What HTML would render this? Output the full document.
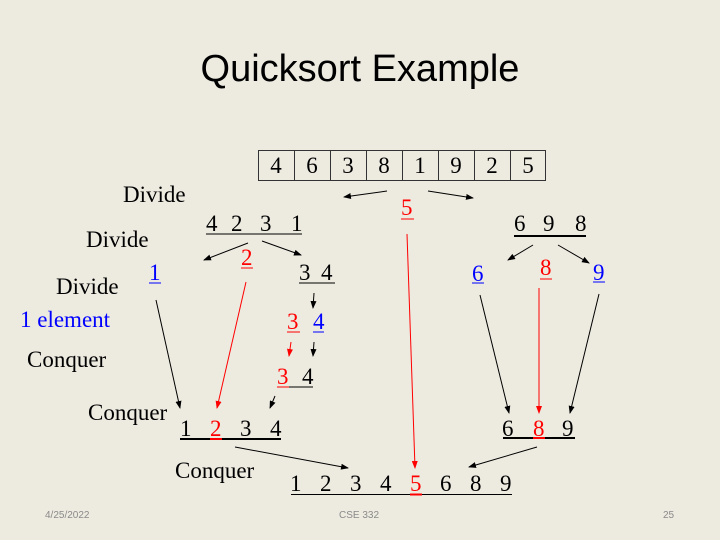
<!DOCTYPE html>
<html><head><meta charset="utf-8"><style>
html,body{margin:0;padding:0;background:#EDEAE0;}
svg{display:block}
.s{font-family:"Liberation Serif",serif;font-size:23px;}
.f{font-family:"Liberation Sans",sans-serif;font-size:10px;fill:#8a8a8a}
</style></head><body>
<svg width="720" height="540" viewBox="0 0 720 540" xmlns="http://www.w3.org/2000/svg">
<defs>
<marker id="a" markerWidth="8" markerHeight="6" refX="7" refY="3" orient="auto" markerUnits="userSpaceOnUse"><path d="M0,0 L8,3 L0,6z" fill="#000"/></marker>
<marker id="r" markerWidth="8" markerHeight="6" refX="7" refY="3" orient="auto" markerUnits="userSpaceOnUse"><path d="M0,0 L8,3 L0,6z" fill="#f00"/></marker>
</defs>
<rect width="720" height="540" fill="#EDEAE0"/>
<text x="360" y="81" text-anchor="middle" font-family="Liberation Sans,sans-serif" font-size="38">Quicksort Example</text>

<g fill="none" stroke="#333" stroke-width="1">
<rect x="258.5" y="150.5" width="287" height="30"/>
<path d="M294.5 150v30M330.5 150v30M366.5 150v30M402.5 150v30M438.5 150v30M474.5 150v30M510.5 150v30"/>
</g>
<g class="s" text-anchor="middle">
<text x="276" y="173">4</text><text x="312" y="173">6</text><text x="348" y="173">3</text><text x="384" y="173">8</text><text x="420" y="173">1</text><text x="456" y="173">9</text><text x="492" y="173">2</text><text x="528" y="173">5</text>
</g>

<g class="s">
<text x="123" y="202">Divide</text>
<text x="86" y="247">Divide</text>
<text x="56" y="294">Divide</text>
<text x="20" y="327" fill="#00f">1 element</text>
<text x="27" y="367">Conquer</text>
<text x="88" y="420">Conquer</text>
<text x="175" y="478">Conquer</text>

<text x="206" y="231">4</text><text x="231" y="231">2</text><text x="260" y="231">3</text><text x="291" y="231">1</text>
<text x="401" y="215" fill="#f00">5</text>
<text x="241" y="265" fill="#f00">2</text>
<text x="149" y="280" fill="#00f">1</text>
<text x="299" y="280">3</text><text x="321" y="280">4</text>
<text x="287" y="329" fill="#f00">3</text><text x="313" y="329" fill="#00f">4</text>
<text x="277" y="384" fill="#f00">3</text><text x="302" y="384">4</text>
<text x="180" y="436">1</text><text x="210" y="436" fill="#f00">2</text><text x="240" y="436">3</text><text x="270" y="436">4</text>

<text x="514" y="231">6</text><text x="543" y="231">9</text><text x="575" y="231">8</text>
<text x="472" y="281" fill="#00f">6</text>
<text x="540" y="275" fill="#f00">8</text>
<text x="593" y="280" fill="#00f">9</text>
<text x="502" y="436">6</text><text x="533" y="436" fill="#f00">8</text><text x="562" y="436">9</text>

<text x="290" y="491">1</text><text x="320" y="491">2</text><text x="350" y="491">3</text><text x="380" y="491">4</text><text x="410" y="491" fill="#f00">5</text><text x="440" y="491">6</text><text x="470" y="491">8</text><text x="500" y="491">9</text>
</g>

<g stroke-width="1">
<line x1="206" y1="234" x2="302" y2="234" stroke="#000"/>
<line x1="401" y1="219" x2="414" y2="219" stroke="#f00"/>
<line x1="241" y1="268" x2="253" y2="268" stroke="#f00"/>
<line x1="149" y1="283" x2="161" y2="283" stroke="#00f"/>
<line x1="299" y1="283" x2="335" y2="283" stroke="#000"/>
<line x1="287" y1="332" x2="300" y2="332" stroke="#f00"/>
<line x1="313" y1="332" x2="324" y2="332" stroke="#00f"/>
<line x1="277" y1="387" x2="289" y2="387" stroke="#f00"/>
<line x1="289" y1="387" x2="313" y2="387" stroke="#000"/>
<line x1="472" y1="283" x2="484" y2="283" stroke="#00f"/>
<line x1="540" y1="279" x2="552" y2="279" stroke="#f00"/>
<line x1="593" y1="282" x2="605" y2="282" stroke="#00f"/>
</g>
<g stroke-width="2">
<line x1="180" y1="439" x2="281" y2="439" stroke="#000"/>
<line x1="210" y1="439" x2="222" y2="439" stroke="#f00"/>
<line x1="514" y1="236" x2="586" y2="236" stroke="#000"/>
<line x1="503" y1="438" x2="575" y2="438" stroke="#000"/>
<line x1="533" y1="438" x2="545" y2="438" stroke="#f00"/>
</g>
<line x1="291" y1="494.5" x2="512" y2="494.5" stroke="#000" stroke-width="1"/>
<line x1="410" y1="494.5" x2="422" y2="494.5" stroke="#f00" stroke-width="2"/>

<g stroke="#000" stroke-width="1" marker-end="url(#a)">
<line x1="387" y1="191" x2="344" y2="197"/>
<line x1="428" y1="191" x2="473" y2="198"/>
<line x1="248" y1="243" x2="204" y2="260"/>
<line x1="262" y1="241" x2="301" y2="255"/>
<line x1="314" y1="293" x2="313" y2="308"/>
<line x1="314" y1="342" x2="313" y2="356"/>
<line x1="275" y1="396" x2="270" y2="408"/>
<line x1="156" y1="300" x2="180" y2="408"/>
<line x1="235" y1="447" x2="348" y2="468"/>
<line x1="533" y1="245" x2="508" y2="260"/>
<line x1="558" y1="245" x2="589" y2="263"/>
<line x1="480" y1="295" x2="509" y2="413"/>
<line x1="599" y1="294" x2="570" y2="413"/>
<line x1="537" y1="447" x2="469" y2="467"/>
</g>
<g stroke="#f00" stroke-width="1" marker-end="url(#r)">
<line x1="407" y1="234" x2="415" y2="468"/>
<line x1="246" y1="282" x2="217" y2="408"/>
<line x1="291" y1="342" x2="289" y2="356"/>
<line x1="539" y1="288" x2="539" y2="413"/>
</g>

<text class="f" x="45" y="518">4/25/2022</text>
<text class="f" x="359" y="518" text-anchor="middle">CSE 332</text>
<text class="f" x="663" y="518">25</text>
</svg>
</body></html>
